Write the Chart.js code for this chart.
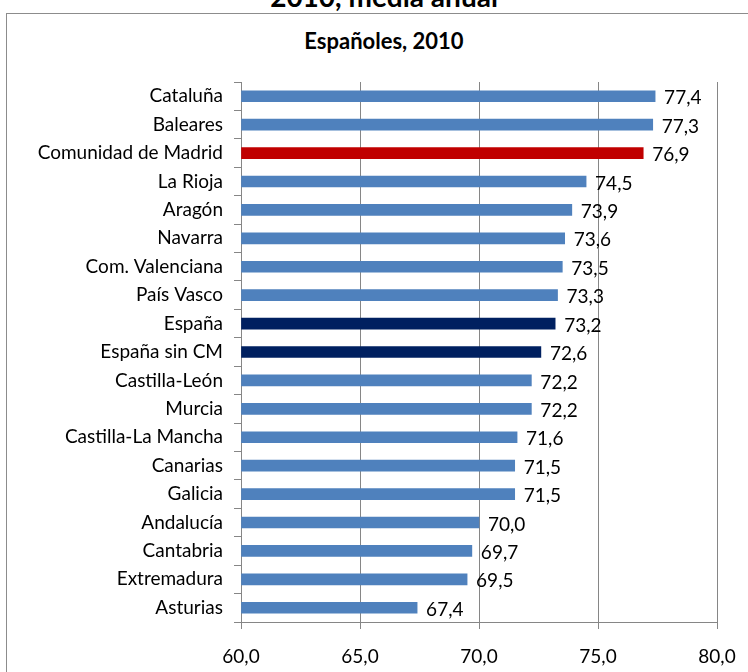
<!DOCTYPE html>
<html>
<head>
<meta charset="utf-8">
<script src="https://cdn.jsdelivr.net/npm/chart.js@4/dist/chart.umd.min.js"></script>
<style>
  body { margin: 0; width: 748px; height: 672px; overflow: hidden; background: #fff; position: relative; font-family: Lato, sans-serif; }
  #marco { position: absolute; left: 6px; top: 13px; width: 800px; height: 700px; border: 1px solid #8c8c8c; }
  #superior { position: absolute; left: 0; top: -21px; width: 768px; text-align: center; font-weight: bold; font-size: 28px; }
  #titulo { position: absolute; left: 0; top: 27px; width: 768px; text-align: center; font-weight: bold; font-size: 22px; }
  #grafico { position: absolute; left: 0; top: 0; }
</style>
</head>
<body>
<div id="superior">2010, media anual</div>
<div id="marco"></div>
<div id="titulo">Españoles, 2010</div>
<canvas id="grafico" width="748" height="672"></canvas>
<script>
// Esperanza de vida por comunidad (orden del gráfico, de arriba a abajo)
const comunidades = [
  "Cataluña", "Baleares", "Comunidad de Madrid", "La Rioja", "Aragón",
  "Navarra", "Com. Valenciana", "País Vasco", "España", "España sin CM",
  "Castilla-León", "Murcia", "Castilla-La Mancha", "Canarias", "Galicia",
  "Andalucía", "Cantabria", "Extremadura", "Asturias"
];
const valores = [
  77.4, 77.3, 76.9, 74.5, 73.9,
  73.6, 73.5, 73.3, 73.2, 72.6,
  72.2, 72.2, 71.6, 71.5, 71.5,
  70.0, 69.7, 69.5, 67.4
];
const ejeMin = 60;
const ejeMax = 80;
const ejePaso = 5;

function colorBarra(nombre) {
  if (nombre === "Comunidad de Madrid") return "#C00000";
  if (nombre.startsWith("España")) return "#002060";
  return "#4F81BD";
}

function coma(v) {
  return Number(v).toFixed(1).replace(".", ",");
}

// etiquetas con el valor al final de cada barra
const etiquetasValor = {
  id: "etiquetasValor",
  afterDatasetsDraw(chart) {
    const ctx = chart.ctx;
    const meta = chart.getDatasetMeta(0);
    ctx.save();
    ctx.font = "19px Lato";
    ctx.fillStyle = "#000";
    ctx.textBaseline = "middle";
    meta.data.forEach(function (barra, i) {
      ctx.fillText(coma(valores[i]), barra.x + 9, barra.y + 2);
    });
    ctx.restore();
  }
};

const gris = "#868686";

new Chart(document.getElementById("grafico").getContext("2d"), {
  type: "bar",
  data: {
    labels: comunidades,
    datasets: [
      {
        data: valores,
        backgroundColor: comunidades.map(colorBarra),
        barThickness: 11,
        base: ejeMin,
      },
    ],
  },
  options: {
    indexAxis: "y",
    responsive: false,
    animation: false,
    layout: { padding: { top: 82, right: 31, left: 0, bottom: 0 } },
    plugins: { legend: { display: false }, tooltip: { enabled: false } },
    scales: {
      x: {
        min: ejeMin,
        max: ejeMax,
        afterFit: function (s) {
          s.height = 50;
          s.paddingLeft = 0;
          s.paddingRight = 0;
        },
        ticks: {
          stepSize: ejePaso,
          color: "#000",
          font: { family: "Lato", size: 19 },
          padding: 16,
          callback: function (v) { return coma(v); },
        },
        grid: { color: gris, tickLength: 7 },
        border: { color: gris },
      },
      y: {
        afterFit: function (s) { s.width = 241; },
        ticks: {
          color: "#000",
          font: { family: "Lato", size: 19 },
          padding: 11,
        },
        grid: { display: true, drawOnChartArea: false, offset: true, color: gris, tickLength: 7 },
        border: { color: gris },
      },
    },
  },
  plugins: [etiquetasValor],
});
</script>
</body>
</html>
